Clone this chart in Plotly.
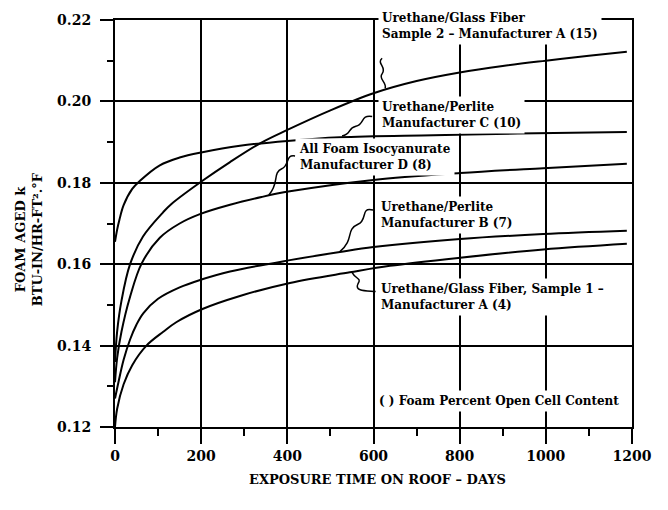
import plotly.graph_objects as go

# Aged thermal conductivity of roof insulation foams vs. exposure time
days_s2 = [0, 5, 15, 35, 65, 112, 131, 203, 267, 340, 400, 500, 600, 700, 800, 900, 1000, 1100, 1188]
k_s2 = [0.136, 0.1435, 0.151, 0.160, 0.1668, 0.1728, 0.1748, 0.1805, 0.1851, 0.1899, 0.1930, 0.1978,
        0.2020, 0.2050, 0.2071, 0.2087, 0.2100, 0.2112, 0.2122]

days_c = [0, 5, 10, 20, 40, 58, 104, 150, 203, 290, 400, 522, 739, 935, 1188]
k_c = [0.1655, 0.1685, 0.1708, 0.1745, 0.1785, 0.1805, 0.1843, 0.1862, 0.1875, 0.1891, 0.1903,
       0.1912, 0.1917, 0.1921, 0.1925]

days_d = [0, 5, 15, 35, 62, 104, 150, 197, 267, 340, 406, 600, 801, 994, 1188]
k_d = [0.131, 0.137, 0.1434, 0.152, 0.1602, 0.1665, 0.1700, 0.1723, 0.1746, 0.1765, 0.1779,
       0.1807, 0.1824, 0.1836, 0.1847]

days_b = [0, 8, 20, 35, 50, 66, 100, 150, 197, 267, 406, 522, 600, 801, 994, 1188]
k_b = [0.127, 0.1310, 0.1365, 0.1415, 0.1452, 0.1480, 0.1515, 0.1543, 0.1561, 0.1582, 0.1610,
       0.1630, 0.1642, 0.1662, 0.1674, 0.1682]

days_s1 = [0, 5, 20, 40, 73, 112, 143, 203, 290, 406, 545, 638, 801, 994, 1188]
k_s1 = [0.120, 0.1245, 0.1305, 0.1352, 0.1400, 0.1434, 0.1458, 0.1490, 0.1522, 0.1554, 0.1580,
        0.1596, 0.1616, 0.1636, 0.1650]

x_ticks = [0, 200, 400, 600, 800, 1000, 1200]
y_ticks = [0.12, 0.14, 0.16, 0.18, 0.20, 0.22]
y_tick_text = ["0.12", "0.14", "0.16", "0.18", "0.20", "0.22"]

SERIF = "DejaVu Serif"
series = [(days_s2, k_s2), (days_c, k_c), (days_d, k_d), (days_b, k_b), (days_s1, k_s1)]

fig = go.Figure()
for dx, ky in series:
    fig.add_trace(go.Scatter(x=dx, y=ky, mode="lines",
                             line=dict(color="black", width=2, shape="spline", smoothing=1.0),
                             showlegend=False, hoverinfo="skip"))

# curve labels (x = left edge in days, y = vertical centre)
labels = [
    (610, 0.2185, "Urethane/Glass Fiber<br>Sample 2 \u2013 Manufacturer A (15)"),
    (610, 0.1966, "Urethane/Perlite<br>Manufacturer C (10)"),
    (417, 0.1864, "All Foam Isocyanurate<br>Manufacturer D (8)"),
    (608, 0.1722, "Urethane/Perlite<br>Manufacturer B (7)"),
    (608, 0.1520, "Urethane/Glass Fiber, Sample 1 \u2013<br>Manufacturer A (4)"),
    (603, 0.1265, "( ) Foam Percent Open Cell Content"),
]
for lx, ly, txt in labels:
    fig.add_annotation(x=lx, y=ly, xref="x", yref="y", text=txt, showarrow=False,
                       xanchor="left", yanchor="middle", align="left",
                       bgcolor="white", borderpad=3,
                       font=dict(family=SERIF, size=12, color="black", weight="bold"))

# wavy leader lines from labels to their curves (data coordinates)
def pth(pts):
    (x0, y0), rest = pts[0], pts[1:]
    s = f"M {x0},{y0}"
    for i in range(0, len(rest), 3):
        a, b, c = rest[i], rest[i + 1], rest[i + 2]
        s += f" C {a[0]},{a[1]} {b[0]},{b[1]} {c[0]},{c[1]}"
    return s

leaders = [
    [(620, 0.2106), (606, 0.2094), (632, 0.2084), (620, 0.2068), (610, 0.2056), (632, 0.2046), (627, 0.2032)],
    [(597, 0.1963), (569, 0.1968), (580, 0.1944), (559, 0.1939), (539, 0.1934), (550, 0.1920), (527, 0.1915)],
    [(418, 0.1866), (395, 0.1870), (406, 0.1845), (388, 0.1835), (364, 0.1824), (383, 0.1800), (357, 0.1770)],
    [(599, 0.1733), (569, 0.1742), (587, 0.1708), (564, 0.1698), (534, 0.1684), (557, 0.1663), (522, 0.1631)],
    [(550, 0.1580), (559, 0.1563), (573, 0.1566), (564, 0.1552), (555, 0.1533), (583, 0.1535), (605, 0.1533)],
]
for pts in leaders:
    fig.add_shape(type="path", xref="x", yref="y", path=pth(pts),
                  line=dict(color="black", width=1.5), layer="above")

axis_common = dict(showline=True, linecolor="black", linewidth=2, mirror=True,
                   showgrid=True, gridcolor="black", gridwidth=1.5, zeroline=False,
                   ticks="outside", tickcolor="black", tickwidth=2,
                   tickfont=dict(family=SERIF, size=14, color="black", weight="bold"))

fig.update_xaxes(range=[0, 1200], tickvals=x_ticks, ticklen=15,
                 minor=dict(ticks="outside", ticklen=7, tickwidth=1.5, tickcolor="black",
                            dtick=100, tick0=0, showgrid=False),
                 **axis_common)
fig.update_yaxes(range=[0.12, 0.22], tickvals=y_ticks, ticktext=y_tick_text, ticklen=13,
                 ticklabelstandoff=6,
                 minor=dict(ticks="outside", ticklen=6, tickwidth=1.5, tickcolor="black",
                            dtick=0.01, tick0=0.12, showgrid=False),
                 **axis_common)

title_font = dict(family=SERIF, size=13, color="black", weight="bold")
fig.add_annotation(x=0.507, y=-0.128, xref="paper", yref="paper", showarrow=False,
                   text="EXPOSURE TIME ON ROOF \u2013 DAYS", font=title_font,
                   xanchor="center", yanchor="middle")
fig.add_annotation(x=-0.166, y=0.462, xref="paper", yref="paper", showarrow=False,
                   text="FOAM AGED k<br>BTU-IN/HR-FT\u00b2.\u00b0F", font=title_font,
                   textangle=-90, xanchor="center", yanchor="middle", align="center")

fig.update_layout(width=668, height=510, margin=dict(l=115, r=36, t=12, b=83),
                  paper_bgcolor="white", plot_bgcolor="white")

fig.write_html("out.html")
